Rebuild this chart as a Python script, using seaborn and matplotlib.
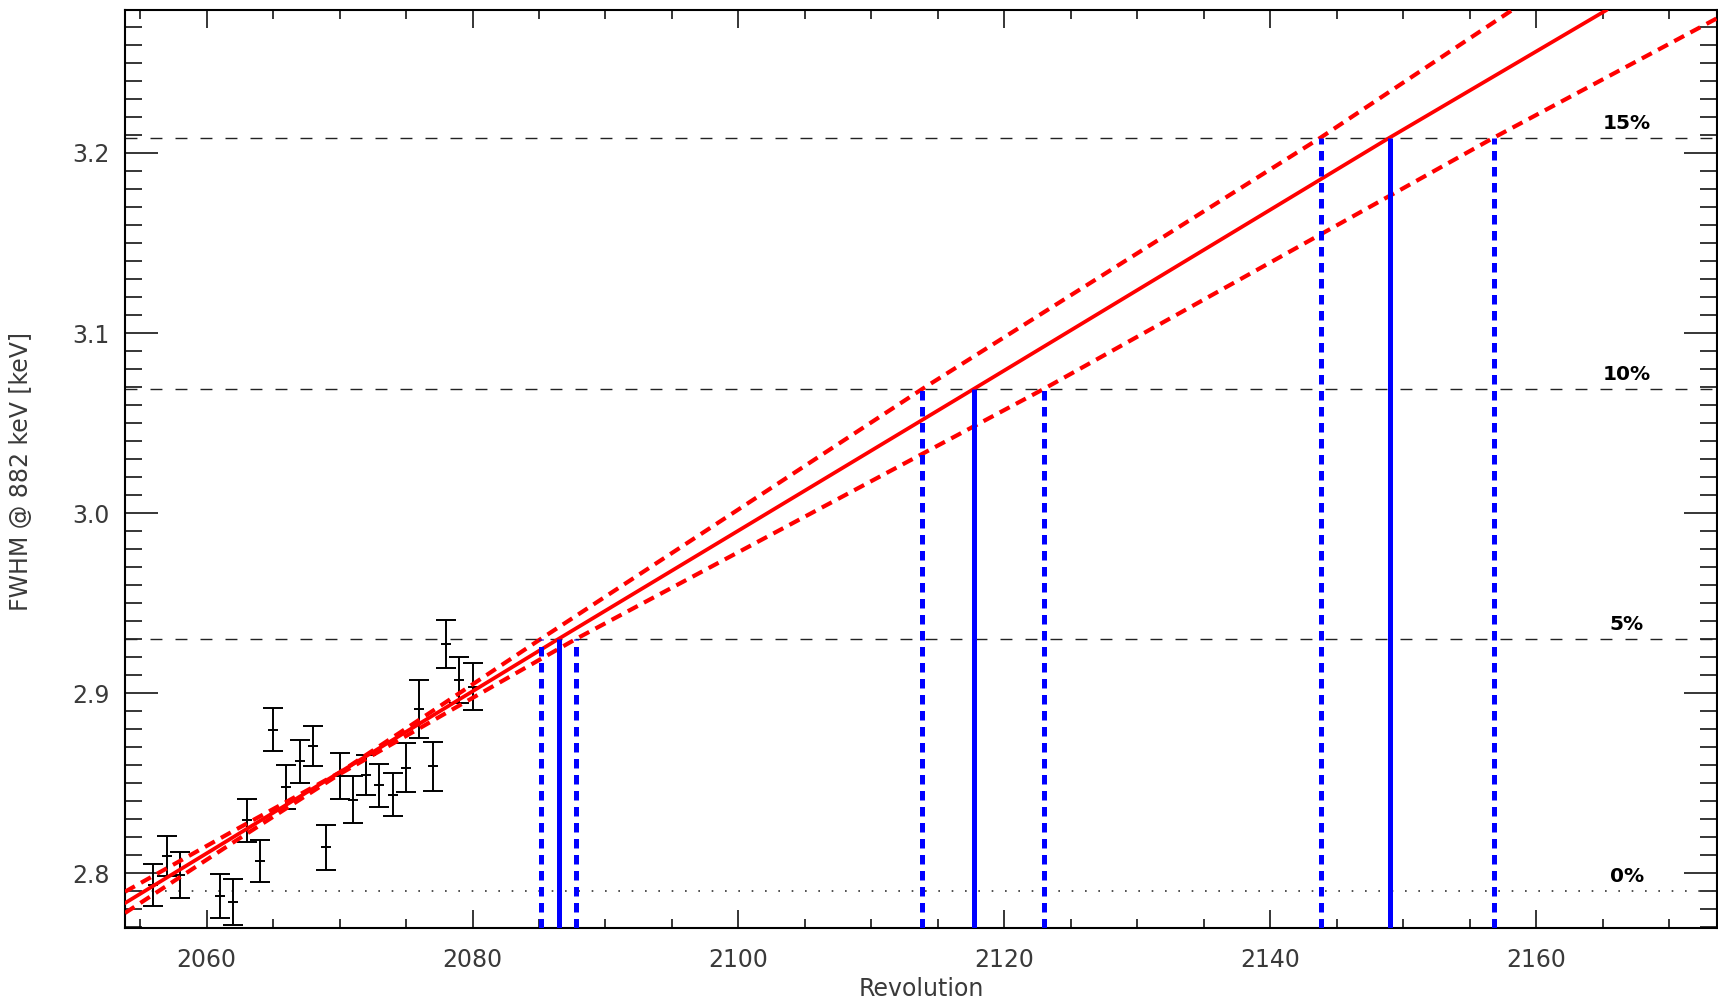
import matplotlib
matplotlib.use('Agg')
import matplotlib.pyplot as plt
from matplotlib.ticker import MultipleLocator, FormatStrFormatter
import seaborn as sns

# measured FWHM per revolution
rev = [2056, 2057, 2058, 2061, 2062, 2063, 2064, 2065, 2066, 2067, 2068, 2069,
       2070, 2071, 2072, 2073, 2074, 2075, 2076, 2077, 2078, 2079, 2080]
fwhm = [2.7935, 2.8097, 2.7989, 2.7874, 2.7841, 2.8295, 2.8068, 2.8797, 2.8481,
        2.8623, 2.8706, 2.8144, 2.8540, 2.8410, 2.8546, 2.8489, 2.8437, 2.8587,
        2.8911, 2.8594, 2.9274, 2.9075, 2.9037]
fwhm_err = [0.0116, 0.0111, 0.0127, 0.0123, 0.0125, 0.0120, 0.0117, 0.0120, 0.0122,
            0.0120, 0.0110, 0.0124, 0.0127, 0.0130, 0.0110, 0.0120, 0.0120, 0.0135,
            0.0160, 0.0134, 0.0135, 0.0128, 0.0130]

# linear trend and its upper / lower bounds
fit_rev = [2053.86, 2086.47, 2117.70, 2148.97, 2165.3]
fit_val = [2.7835, 2.9302, 3.069, 3.2085, 3.2794]
up_rev = [2053.86, 2062, 2070, 2078, 2085.14, 2113.83, 2143.78, 2158.2]
up_val = [2.7898, 2.8235, 2.8560, 2.8951, 2.9302, 3.069, 3.2085, 3.2794]
lo_rev = [2053.86, 2062, 2070, 2078, 2087.79, 2122.97, 2156.81, 2173.6]
lo_val = [2.7780, 2.8172, 2.8551, 2.8890, 2.9302, 3.069, 3.2085, 3.2748]

# degradation levels
pct_labels = ['0%', '5%', '10%', '15%']
pct_levels = [2.79, 2.9302, 3.069, 3.2085]

# revolutions where the levels are reached (trend, early bound, late bound)
cross_fit = [2086.47, 2117.70, 2148.97]
cross_up = [2085.14, 2113.83, 2143.78]
cross_lo = [2087.79, 2122.97, 2156.81]

sns.set_style('ticks')
plt.rcParams['font.family'] = ['DejaVu Sans']

fig = plt.figure(figsize=(17.18, 10.01), dpi=100)
ax = fig.add_axes([125/1718, 1 - 928.3/1001, 1592/1718, 918.3/1001])
ax.set_xlim(2053.86, 2173.6)
ax.set_ylim(2.7695, 3.2794)
ymin = ax.get_ylim()[0]

# level lines
ax.axhline(pct_levels[0], color='#333333', lw=1.2, dashes=(1, 7), zorder=1)
for lev in pct_levels[1:]:
    ax.axhline(lev, color='#222222', lw=1.0, dashes=(8.6, 9.4), zorder=1)
for lab, lev in zip(pct_labels, pct_levels):
    ax.text(2166.8, lev + 0.0028, lab, ha='center', va='bottom',
            fontsize=14.5, fontweight='bold', color='black')

# data
ax.errorbar(rev, fwhm, yerr=fwhm_err, fmt='_', color='black', ms=7, mew=1.4,
            elinewidth=1.4, capsize=7, capthick=1.4, zorder=2)

# trend lines
sns.lineplot(x=fit_rev, y=fit_val, ax=ax, color='#ff0000', lw=2.7, sort=False, zorder=3)
sns.lineplot(x=up_rev, y=up_val, ax=ax, color='#ff0000', lw=3, sort=False,
             dashes=False, zorder=3).lines[-1].set_dashes((2.7, 1.7))
sns.lineplot(x=lo_rev, y=lo_val, ax=ax, color='#ff0000', lw=3, sort=False,
             dashes=False, zorder=3).lines[-1].set_dashes((2.7, 1.7))

# crossing markers
ax.vlines(cross_fit, ymin, pct_levels[1:], color='#0000ff', lw=3.6, zorder=4)
ax.vlines(cross_up, ymin, pct_levels[1:], color='#0000ff', lw=3.6,
          linestyles=[(0, (1.9, 1.3))], zorder=4)
ax.vlines(cross_lo, ymin, pct_levels[1:], color='#0000ff', lw=3.6,
          linestyles=[(0, (1.9, 1.3))], zorder=4)

# axes styling
ax.xaxis.set_major_locator(MultipleLocator(20))
ax.xaxis.set_minor_locator(MultipleLocator(5))
ax.yaxis.set_major_locator(MultipleLocator(0.1))
ax.yaxis.set_minor_locator(MultipleLocator(0.01))
ax.yaxis.set_major_formatter(FormatStrFormatter('%.1f'))
ax.tick_params(axis='both', which='both', direction='in', top=True, right=True,
               color='black', width=1.1, labelsize=17, labelcolor='#3a3a3a')
ax.tick_params(axis='x', which='major', length=13, pad=14)
ax.tick_params(axis='x', which='minor', length=6.5)
ax.tick_params(axis='y', which='major', length=23.5, pad=11)
ax.tick_params(axis='y', which='minor', length=12)
for sp in ax.spines.values():
    sp.set_linewidth(1.5)
    sp.set_color('black')

ax.set_xlabel('Revolution', fontsize=17, color='#3a3a3a')
ax.xaxis.set_label_coords(0.5, -0.053)
ax.set_ylabel('FWHM @ 882 keV [keV]', fontsize=17, color='#3a3a3a')
ax.yaxis.set_label_coords(-0.058, 0.497)

fig.savefig('out.png', dpi=100)
